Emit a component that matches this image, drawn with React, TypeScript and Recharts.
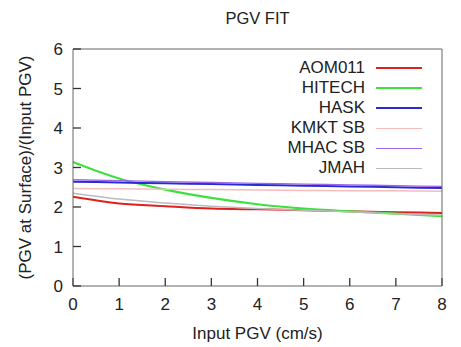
import React from 'react';
import { LineChart, Line, XAxis, YAxis } from 'recharts';

const xValues = [0, 1, 2, 3, 4, 5, 6, 7, 8];
const aom011 = [2.26, 2.09, 2.02, 1.96, 1.94, 1.92, 1.89, 1.87, 1.85];
const hitech = [3.14, 2.72, 2.44, 2.23, 2.07, 1.96, 1.89, 1.83, 1.77];
const hask = [2.64, 2.62, 2.6, 2.58, 2.56, 2.54, 2.52, 2.5, 2.48];
const kmktSb = [2.47, 2.46, 2.45, 2.44, 2.43, 2.42, 2.41, 2.41, 2.4];
const mhacSb = [2.69, 2.67, 2.64, 2.62, 2.6, 2.58, 2.56, 2.54, 2.52];
const jmah = [2.35, 2.2, 2.1, 2.02, 1.96, 1.92, 1.88, 1.83, 1.79];
const xTicks = [0, 1, 2, 3, 4, 5, 6, 7, 8];
const yTicks = [0, 1, 2, 3, 4, 5, 6];

const seriesNames = ['AOM011', 'HITECH', 'HASK', 'KMKT SB', 'MHAC SB', 'JMAH'];
const seriesValues = [aom011, hitech, hask, kmktSb, mhacSb, jmah];
const seriesColors = ['#dd2020', '#3ee03e', '#2a2ad2', '#f6bcbc', '#9a66ec', '#bbbbbb'];
const seriesWidths = [2, 2.2, 2, 1.5, 1.3, 1.5];

const data = xValues.map((x, i) => {
  const row: Record<string, number> = { x };
  seriesNames.forEach((n, k) => {
    row[n] = seriesValues[k][i];
  });
  return row;
});

const FONT = '"Liberation Sans", Arial, sans-serif';
const AXIS_COLOR = '#666666';
const TEXT_COLOR = '#222';
const TICK_LINE = { stroke: '#333333', strokeWidth: 1.3 };

const LegendBox = () => (
  <div
    style={{
      position: 'absolute',
      left: 250,
      top: 58,
      fontFamily: FONT,
      fontSize: 17,
      color: TEXT_COLOR,
    }}
  >
    {seriesNames.map((n, k) => (
      <div key={n} style={{ display: 'flex', alignItems: 'center', height: 20 }}>
        <span style={{ width: 115, textAlign: 'right', lineHeight: '20px' }}>{n}</span>
        <div
          style={{
            marginLeft: 11,
            width: 46,
            height: 0,
            borderTop: `${seriesWidths[k]}px solid ${seriesColors[k]}`,
          }}
        />
      </div>
    ))}
  </div>
);

export default function App() {
  return (
    <div
      style={{
        position: 'absolute',
        left: 0,
        top: 0,
        width: 461,
        height: 347,
        background: '#fff',
        fontFamily: FONT,
      }}
    >
      <div
        style={{
          position: 'absolute',
          left: 73,
          width: 369,
          top: 8,
          textAlign: 'center',
          fontSize: 16.5,
          color: TEXT_COLOR,
          lineHeight: '20px',
        }}
      >
        PGV FIT
      </div>
      <LineChart
        width={461}
        height={347}
        data={data}
        margin={{ top: 48, right: 18, bottom: 0, left: 0 }}
      >
        <XAxis
          dataKey="x"
          type="number"
          domain={[0, 8]}
          ticks={xTicks}
          height={61}
          stroke={AXIS_COLOR}
          tickSize={-8}
          tickMargin={20}
          tickLine={TICK_LINE}
          tick={{ fill: TEXT_COLOR, fontSize: 17, fontFamily: FONT }}
          label={(props: any) => {
            const vb = props.viewBox;
            return (
              <text
                x={vb.x + vb.width / 2}
                y={vb.y + 53}
                textAnchor="middle"
                fill={TEXT_COLOR}
                fontSize={17}
                fontFamily={FONT}
              >
                Input PGV (cm/s)
              </text>
            );
          }}
        />
        <XAxis
          xAxisId="top"
          orientation="top"
          type="number"
          domain={[0, 8]}
          ticks={xTicks}
          height={1}
          stroke={AXIS_COLOR}
          tickSize={-8}
          tickLine={TICK_LINE}
          tick={false}
        />
        <YAxis
          type="number"
          domain={[0, 6]}
          ticks={yTicks}
          width={73}
          stroke={AXIS_COLOR}
          tickSize={-8}
          tickMargin={18}
          tickLine={TICK_LINE}
          tick={{ fill: TEXT_COLOR, fontSize: 17, fontFamily: FONT }}
          label={(props: any) => {
            const vb = props.viewBox;
            const cx = 25;
            const cy = vb.y + vb.height / 2;
            return (
              <text
                x={cx}
                y={cy}
                transform={`rotate(-90, ${cx}, ${cy})`}
                textAnchor="middle"
                dominantBaseline="central"
                fill={TEXT_COLOR}
                fontSize={17}
                fontFamily={FONT}
              >
                (PGV at Surface)/(Input PGV)
              </text>
            );
          }}
        />
        <YAxis
          yAxisId="right"
          orientation="right"
          type="number"
          domain={[0, 6]}
          ticks={yTicks}
          width={1}
          stroke={AXIS_COLOR}
          tickSize={-8}
          tickLine={TICK_LINE}
          tick={false}
        />
        {seriesNames.map((n, k) => (
          <Line
            key={n}
            dataKey={n}
            type="monotone"
            stroke={seriesColors[k]}
            strokeWidth={seriesWidths[k]}
            dot={false}
            isAnimationActive={false}
          />
        ))}
      </LineChart>
      <LegendBox />
    </div>
  );
}
